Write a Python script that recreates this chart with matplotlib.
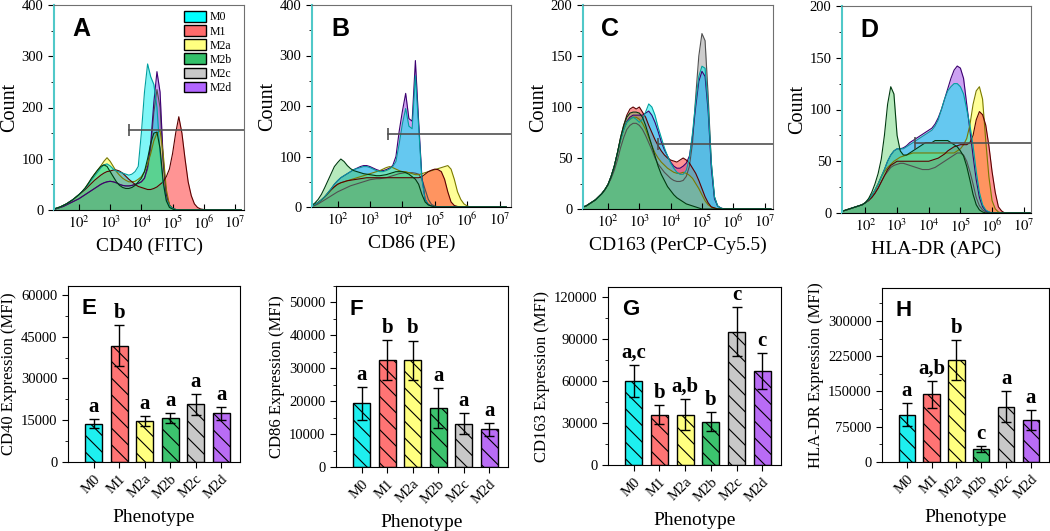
import numpy as np
import matplotlib
matplotlib.use("Agg")
import matplotlib.pyplot as plt
from matplotlib.patches import Patch
from matplotlib.ticker import AutoMinorLocator, LogLocator, NullFormatter, FixedLocator

plt.rcParams["font.family"] = "Liberation Serif"
plt.rcParams["mathtext.fontset"] = "stix"
plt.rcParams["hatch.linewidth"] = 0.8

phenotypes = ["M0", "M1", "M2a", "M2b", "M2c", "M2d"]

# histogram bins, log10 of fluorescence intensity (1.2 ... 7.2, step 0.1)
log_mfi = np.round(np.arange(1.2, 7.25, 0.1), 1)

# ---- CD40 (FITC) counts ----
cd40_m0 = [2, 4, 6, 9, 12, 16, 20, 25,
           30, 36, 42, 50, 58, 66, 74, 82, 88, 90,
           86, 80, 76, 74, 72, 70, 68, 70, 75, 85,
           150, 230, 285, 260, 245, 200, 110, 50, 20, 8,
           3, 1, 0, 0, 0, 0, 0, 0, 0, 0,
           0, 0, 0, 0, 0, 0, 0, 0, 0, 0, 0, 0, 0]
cd40_m1 = [2, 4, 6, 9, 12, 16, 20, 25,
           30, 35, 40, 46, 52, 58, 63, 68, 72, 75,
           76, 78, 78, 76, 72, 66, 60, 55, 50, 46,
           44, 42, 40, 40, 42, 45, 50, 55, 65, 80,
           110, 150, 182, 150, 100, 55, 28, 12, 5, 2,
           1, 0, 0, 0, 0, 0, 0, 0, 0, 0, 0, 0, 0]
cd40_m2a = [2, 4, 6, 9, 12, 16, 20, 25,
            30, 36, 43, 52, 60, 70, 78, 86, 95, 102,
            95, 85, 75, 68, 62, 58, 55, 55, 56, 60,
            65, 75, 90, 110, 135, 150, 155, 110, 40, 10,
            3, 1, 0, 0, 0, 0, 0, 0, 0, 0,
            0, 0, 0, 0, 0, 0, 0, 0, 0, 0, 0, 0, 0]
cd40_m2b = [2, 4, 6, 9, 12, 16, 20, 25,
            30, 36, 43, 52, 62, 70, 78, 85, 88, 85,
            75, 65, 55, 48, 44, 42, 42, 44, 48, 55,
            62, 75, 100, 130, 150, 152, 120, 55, 18, 5,
            2, 0, 0, 0, 0, 0, 0, 0, 0, 0,
            0, 0, 0, 0, 0, 0, 0, 0, 0, 0, 0, 0, 0]
cd40_m2c = [1, 3, 5, 7, 10, 13, 16, 19,
            22, 26, 30, 34, 38, 42, 46, 50, 53, 55,
            56, 55, 53, 50, 48, 47, 47, 48, 50, 52,
            55, 62, 80, 120, 190, 235, 200, 90, 30, 10,
            3, 1, 0, 0, 0, 0, 0, 0, 0, 0,
            0, 0, 0, 0, 0, 0, 0, 0, 0, 0, 0, 0, 0]
cd40_m2d = [1, 3, 5, 7, 10, 13, 16, 19,
            22, 26, 30, 34, 38, 42, 46, 50, 53, 55,
            56, 55, 53, 50, 48, 47, 47, 48, 50, 52,
            55, 62, 85, 130, 210, 270, 230, 100, 30, 10,
            3, 1, 0, 0, 0, 0, 0, 0, 0, 0,
            0, 0, 0, 0, 0, 0, 0, 0, 0, 0, 0, 0, 0]

# ---- CD86 (PE) counts ----
cd86_m0 = [2, 5, 9, 14, 20, 28, 36, 45,
           52, 58, 62, 66, 70, 74, 76, 78, 80, 80,
           78, 75, 72, 70, 70, 72, 75, 80, 90, 125,
           165, 195, 160, 155, 260, 160, 55, 15, 5, 2,
           0, 0, 0, 0, 0, 0, 0, 0, 0, 0,
           0, 0, 0, 0, 0, 0, 0, 0, 0, 0, 0, 0, 0]
cd86_m1 = [2, 5, 9, 14, 20, 27, 34, 40,
           45, 48, 50, 52, 53, 54, 55, 56, 57, 58,
           58, 58, 58, 58, 58, 58, 58, 58, 58, 58,
           58, 58, 58, 58, 58, 58, 60, 65, 70, 73,
           75, 74, 70, 55, 30, 10, 3, 1, 0, 0,
           0, 0, 0, 0, 0, 0, 0, 0, 0, 0, 0, 0, 0]
cd86_m2a = [2, 5, 9, 14, 20, 27, 34, 40,
            45, 48, 50, 52, 54, 56, 58, 60, 62, 64,
            66, 68, 70, 72, 75, 78, 80, 78, 75, 72,
            70, 70, 68, 66, 64, 64, 66, 68, 70, 72,
            74, 76, 78, 80, 82, 75, 55, 30, 15, 6,
            2, 0, 0, 0, 0, 0, 0, 0, 0, 0, 0, 0, 0]
cd86_m2b = [3, 8, 15, 25, 38, 52, 66, 80,
            88, 95, 90, 82, 76, 72, 70, 68, 66, 65,
            64, 63, 62, 62, 63, 64, 66, 68, 70, 70,
            70, 68, 65, 60, 55, 45, 25, 10, 4, 2,
            0, 0, 0, 0, 0, 0, 0, 0, 0, 0,
            0, 0, 0, 0, 0, 0, 0, 0, 0, 0, 0, 0, 0]
cd86_m2c = [1, 3, 6, 10, 14, 18, 22, 26,
            30, 33, 36, 39, 42, 44, 46, 48, 50, 52,
            54, 55, 56, 56, 57, 58, 60, 62, 64, 66,
            67, 68, 68, 68, 67, 65, 55, 35, 15, 5,
            2, 0, 0, 0, 0, 0, 0, 0, 0, 0,
            0, 0, 0, 0, 0, 0, 0, 0, 0, 0, 0, 0, 0]
cd86_m2d = [2, 5, 9, 14, 20, 28, 36, 45,
            52, 58, 62, 66, 70, 74, 77, 80, 82, 82,
            80, 77, 74, 72, 72, 74, 77, 82, 100, 150,
            190, 225, 175, 170, 290, 170, 60, 15, 5, 2,
            0, 0, 0, 0, 0, 0, 0, 0, 0, 0,
            0, 0, 0, 0, 0, 0, 0, 0, 0, 0, 0, 0, 0]

# ---- CD163 (PerCP-Cy5.5) counts ----
cd163_m0 = [2, 3, 5, 7, 9, 12, 15, 19,
            24, 32, 42, 55, 68, 78, 85, 88, 90, 88,
            85, 88, 95, 103, 100, 92, 80, 70, 60, 52,
            45, 40, 36, 34, 34, 38, 50, 75, 105, 130,
            140, 138, 100, 45, 12, 3, 1, 0, 0, 0,
            0, 0, 0, 0, 0, 0, 0, 0, 0, 0, 0, 0, 0]
cd163_m1 = [2, 3, 5, 7, 9, 12, 15, 19,
            24, 32, 42, 55, 70, 82, 92, 98, 100, 98,
            100, 95, 90, 82, 75, 68, 62, 57, 53, 50,
            48, 47, 46, 48, 50, 48, 45, 40, 35, 28,
            20, 12, 6, 2, 1, 0, 0, 0, 0, 0,
            0, 0, 0, 0, 0, 0, 0, 0, 0, 0, 0, 0, 0]
cd163_m2a = [2, 3, 5, 7, 9, 12, 15, 19,
             24, 32, 42, 55, 68, 78, 85, 88, 90, 90,
             88, 84, 78, 70, 62, 55, 50, 46, 43, 40,
             38, 36, 35, 35, 36, 35, 33, 30, 25, 20,
             14, 8, 4, 2, 1, 0, 0, 0, 0, 0,
             0, 0, 0, 0, 0, 0, 0, 0, 0, 0, 0, 0, 0]
cd163_m2b = [2, 3, 5, 7, 9, 12, 15, 19,
             24, 32, 42, 55, 70, 82, 90, 94, 95, 95,
             94, 90, 82, 72, 62, 52, 42, 34, 28, 22,
             18, 14, 11, 9, 7, 5, 4, 3, 2, 1,
             0, 0, 0, 0, 0, 0, 0, 0, 0, 0,
             0, 0, 0, 0, 0, 0, 0, 0, 0, 0, 0, 0, 0]
cd163_m2c = [2, 3, 5, 7, 9, 12, 15, 19,
             24, 30, 38, 48, 60, 70, 78, 82, 84, 84,
             82, 78, 72, 65, 58, 50, 44, 40, 36, 33,
             30, 28, 27, 27, 28, 32, 42, 65, 110, 150,
             172, 165, 110, 45, 12, 3, 1, 0, 0, 0,
             0, 0, 0, 0, 0, 0, 0, 0, 0, 0, 0, 0, 0]
cd163_m2d = [2, 3, 5, 7, 9, 12, 15, 19,
             24, 32, 42, 55, 68, 78, 86, 90, 92, 92,
             92, 92, 94, 96, 92, 85, 76, 66, 58, 52,
             46, 42, 40, 40, 42, 45, 52, 72, 100, 125,
             135, 130, 95, 40, 10, 3, 1, 0, 0, 0,
             0, 0, 0, 0, 0, 0, 0, 0, 0, 0, 0, 0, 0]

# ---- HLA-DR (APC) counts ----
hladr_m0 = [1, 2, 3, 4, 5, 6, 7, 8,
            10, 13, 17, 22, 28, 35, 42, 50, 56, 60,
            62, 62, 62, 64, 66, 68, 70, 72, 74, 76,
            78, 80, 84, 90, 100, 110, 118, 122, 125, 125,
            122, 115, 100, 85, 65, 40, 20, 8, 3, 1,
            0, 0, 0, 0, 0, 0, 0, 0, 0, 0, 0, 0, 0]
hladr_m1 = [1, 2, 3, 4, 5, 6, 7, 8,
            10, 12, 15, 19, 24, 30, 36, 42, 46, 48,
            50, 50, 50, 50, 50, 50, 50, 50, 50, 50,
            50, 51, 52, 53, 55, 57, 60, 62, 64, 65,
            66, 66, 66, 68, 75, 90, 98, 95, 85, 65,
            40, 20, 6, 2, 0, 0, 0, 0, 0, 0, 0, 0, 0]
hladr_m2a = [1, 2, 3, 4, 5, 6, 7, 8,
             10, 13, 17, 22, 28, 35, 40, 44, 47, 50,
             52, 54, 55, 56, 57, 58, 58, 58, 58, 58,
             58, 58, 58, 58, 58, 58, 58, 58, 58, 60,
             62, 66, 72, 85, 105, 118, 122, 110, 70, 35,
             12, 4, 1, 0, 0, 0, 0, 0, 0, 0, 0, 0, 0]
hladr_m2b = [1, 2, 3, 4, 5, 6, 7, 8,
             10, 14, 20, 28, 38, 52, 75, 105, 122, 115,
             75, 60, 56, 56, 58, 60, 62, 64, 66, 68,
             68, 68, 70, 70, 70, 70, 70, 68, 66, 64,
             60, 55, 45, 32, 18, 8, 3, 1, 0, 0,
             0, 0, 0, 0, 0, 0, 0, 0, 0, 0, 0, 0, 0]
hladr_m2c = [1, 2, 3, 4, 5, 6, 7, 8,
             10, 12, 15, 19, 24, 30, 36, 40, 44, 46,
             47, 48, 48, 47, 46, 45, 44, 43, 42, 42,
             42, 43, 44, 46, 48, 50, 52, 54, 56, 58,
             58, 56, 50, 40, 28, 15, 7, 3, 1, 0,
             0, 0, 0, 0, 0, 0, 0, 0, 0, 0, 0, 0, 0]
hladr_m2d = [1, 2, 3, 4, 5, 6, 7, 8,
             10, 13, 17, 22, 28, 35, 42, 50, 56, 60,
             62, 62, 63, 65, 68, 70, 72, 74, 76, 78,
             80, 82, 86, 92, 100, 110, 120, 130, 138, 142,
             140, 130, 105, 80, 55, 32, 15, 6, 2, 1,
             0, 0, 0, 0, 0, 0, 0, 0, 0, 0, 0, 0, 0]

# gate markers (start in log10 units, level in counts)
gate_start = [3.6, 3.56, 3.6, 3.58]
gate_level = [156, 145, 64, 68]

# ---- MFI bar data ----
cd40_mean = [13800, 41800, 14600, 15700, 20700, 17500]
cd40_err = [1500, 7500, 1800, 1800, 3700, 2300]
cd40_sig = ["a", "b", "a", "a", "a", "a"]

cd86_mean = [19400, 32500, 32400, 18000, 13200, 11400]
cd86_err = [5000, 6000, 6000, 6000, 3200, 2000]
cd86_sig = ["a", "b", "b", "a", "a", "a"]

cd163_mean = [60000, 36000, 36000, 31000, 95000, 67000]
cd163_err = [11500, 6500, 11000, 7000, 17500, 13000]
cd163_sig = ["a,c", "b", "a,b", "b", "c", "c"]

hladr_mean = [101000, 144000, 217000, 27000, 118000, 90000]
hladr_err = [24000, 29000, 43000, 6000, 33000, 21000]
hladr_sig = ["a", "a,b", "b", "c", "a", "a"]

legend_colors = ["#00FFFF", "#FF6B6B", "#FFFF80", "#33C06A", "#C8C8C8", "#B266FF"]
hist_fill = ["#00F0F0", "#FF2A2A", "#FFFF30", "#40C850", "#9A9A9A", "#9A45E6"]
hist_edge = ["#00A0A0", "#5A0000", "#7A7A00", "#003A10", "#505050", "#3C0070"]
hist_alpha = [0.5, 0.5, 0.5, 0.38, 0.5, 0.5]
bar_colors = ["#1EEFEF", "#FF7474", "#FFFF80", "#3CC36E", "#C8C8C8", "#B96CF5"]

W, H = 1050, 531
fig = plt.figure(figsize=(W / 100, H / 100), dpi=100)


def px_axes(left, right, top, bottom):
    return fig.add_axes([left / W, 1 - bottom / H, (right - left) / W, (bottom - top) / H])


def hist_panel(ax, series, xlim, ymax, xlabel, tag, gate_x, gate_y):
    # back to front: M2c, M2d, M2a, M1, M0, M2b
    order = [4, 5, 2, 1, 0, 3]
    x = 10 ** log_mfi
    for i in order:
        ax.fill_between(x, series[i], 0, color=hist_fill[i], alpha=hist_alpha[i], lw=0)
        ax.plot(x, series[i], color=hist_edge[i], lw=0.8)
    ax.set_xscale("log")
    ax.set_xlim(10 ** xlim[0], 10 ** xlim[1])
    ax.set_ylim(0, ymax)
    ax.plot([10 ** gate_x, 10 ** xlim[1]], [gate_y, gate_y], color="#505050", lw=1.2)
    ax.plot([10 ** gate_x], [gate_y], marker="|", ms=9, mew=1.2, color="#505050")
    ax.xaxis.set_major_locator(FixedLocator([1e2, 1e3, 1e4, 1e5, 1e6, 1e7]))
    ax.xaxis.set_minor_locator(LogLocator(base=10, subs=np.arange(2, 10)))
    ax.xaxis.set_minor_formatter(NullFormatter())
    ax.set_xticklabels([r"$10^{%d}$" % k for k in range(2, 8)])
    ax.set_yticks(np.linspace(0, ymax, 5))
    ax.yaxis.set_minor_locator(AutoMinorLocator(2))
    ax.tick_params(axis="x", which="major", direction="in", length=4, labelsize=10.5)
    ax.tick_params(axis="x", which="minor", direction="in", length=2)
    ax.tick_params(axis="y", which="major", direction="out", length=4, labelsize=10.5)
    ax.tick_params(axis="y", which="minor", direction="out", length=2)
    for side in ["top", "right"]:
        ax.spines[side].set_color("#707070")
    ax.spines["left"].set_color("#50C8C8")
    ax.spines["left"].set_linewidth(1.5)
    ax.set_ylabel("Count", fontsize=14.5, labelpad=2)
    ax.set_xlabel(xlabel, fontsize=14, labelpad=4)
    ax.text(0.095, 0.94, tag, transform=ax.transAxes, family="Liberation Sans",
            fontweight="bold", fontsize=18, va="top", ha="left")


def bar_panel(ax, means, errs, sig, ymax, yticks, ylabel, tag):
    x = np.arange(len(phenotypes))
    ax.bar(x, means, width=0.66, color=bar_colors, edgecolor="black", lw=1.0,
           hatch="\\\\", zorder=2)
    ax.errorbar(x, means, yerr=errs, fmt="none", ecolor="black", elinewidth=1.0,
                capsize=3.5, capthick=1.0, zorder=3)
    for xi, m, e, s in zip(x, means, errs, sig):
        ax.text(xi, m + e + ymax * 0.012, s, ha="center", va="bottom",
                fontsize=15, fontweight="bold")
    ax.set_xlim(-1.0, len(phenotypes) - 0.27)
    ax.set_ylim(0, ymax)
    ax.set_yticks(yticks)
    ax.yaxis.set_minor_locator(AutoMinorLocator(2))
    ax.set_xticks(x)
    ax.set_xticklabels(phenotypes, rotation=45, ha="right", rotation_mode="anchor")
    ax.tick_params(axis="both", which="major", direction="out", length=4, labelsize=10.5)
    ax.tick_params(axis="y", which="minor", direction="out", length=2)
    ax.set_ylabel(ylabel, fontsize=12, labelpad=3)
    ax.set_xlabel("Phenotype", fontsize=14, labelpad=6)
    ax.text(0.08, 0.93, tag, transform=ax.transAxes, family="Liberation Sans",
            fontweight="bold", fontsize=16, va="top", ha="left")


ax_a = px_axes(54, 244, 5, 210)
ax_b = px_axes(312, 511, 5, 207)
ax_c = px_axes(583, 773, 5, 209)
ax_d = px_axes(842, 1031, 6, 213)

hist_panel(ax_a, [cd40_m0, cd40_m1, cd40_m2a, cd40_m2b, cd40_m2c, cd40_m2d],
           (1.2, 7.29), 400, "CD40 (FITC)", "A", gate_start[0], gate_level[0])
hist_panel(ax_b, [cd86_m0, cd86_m1, cd86_m2a, cd86_m2b, cd86_m2c, cd86_m2d],
           (1.21, 7.35), 400, "CD86 (PE)", "B", gate_start[1], gate_level[1])
hist_panel(ax_c, [cd163_m0, cd163_m1, cd163_m2a, cd163_m2b, cd163_m2c, cd163_m2d],
           (1.2, 7.27), 200, "CD163 (PerCP-Cy5.5)", "C", gate_start[2], gate_level[2])
hist_panel(ax_d, [hladr_m0, hladr_m1, hladr_m2a, hladr_m2b, hladr_m2c, hladr_m2d],
           (1.26, 7.23), 200, "HLA-DR (APC)", "D", gate_start[3], gate_level[3])

handles = [Patch(facecolor=c, edgecolor="black", lw=1.0) for c in legend_colors]
ax_a.legend(handles, phenotypes, loc="upper left", bbox_to_anchor=(0.684, 0.97),
            frameon=False, fontsize=8.5, handlelength=1.9, handleheight=1.0,
            labelspacing=0.15, handletextpad=0.3, borderpad=0, borderaxespad=0)

ax_e = px_axes(68, 240, 286, 462)
ax_f = px_axes(336, 508, 286, 467)
ax_g = px_axes(608, 781, 287, 465)
ax_h = px_axes(882, 1049, 288, 462)

bar_panel(ax_e, cd40_mean, cd40_err, cd40_sig, 63200,
          [0, 15000, 30000, 45000, 60000], "CD40 Expression (MFI)", "E")
bar_panel(ax_f, cd86_mean, cd86_err, cd86_sig, 55000,
          [0, 10000, 20000, 30000, 40000, 50000], "CD86 Expression (MFI)", "F")
bar_panel(ax_g, cd163_mean, cd163_err, cd163_sig, 127000,
          [0, 30000, 60000, 90000, 120000], "CD163 Expression (MFI)", "G")
bar_panel(ax_h, hladr_mean, hladr_err, hladr_sig, 370000,
          [0, 75000, 150000, 225000, 300000], "HLA-DR Expression (MFI)", "H")

fig.savefig("out.png", dpi=100)
